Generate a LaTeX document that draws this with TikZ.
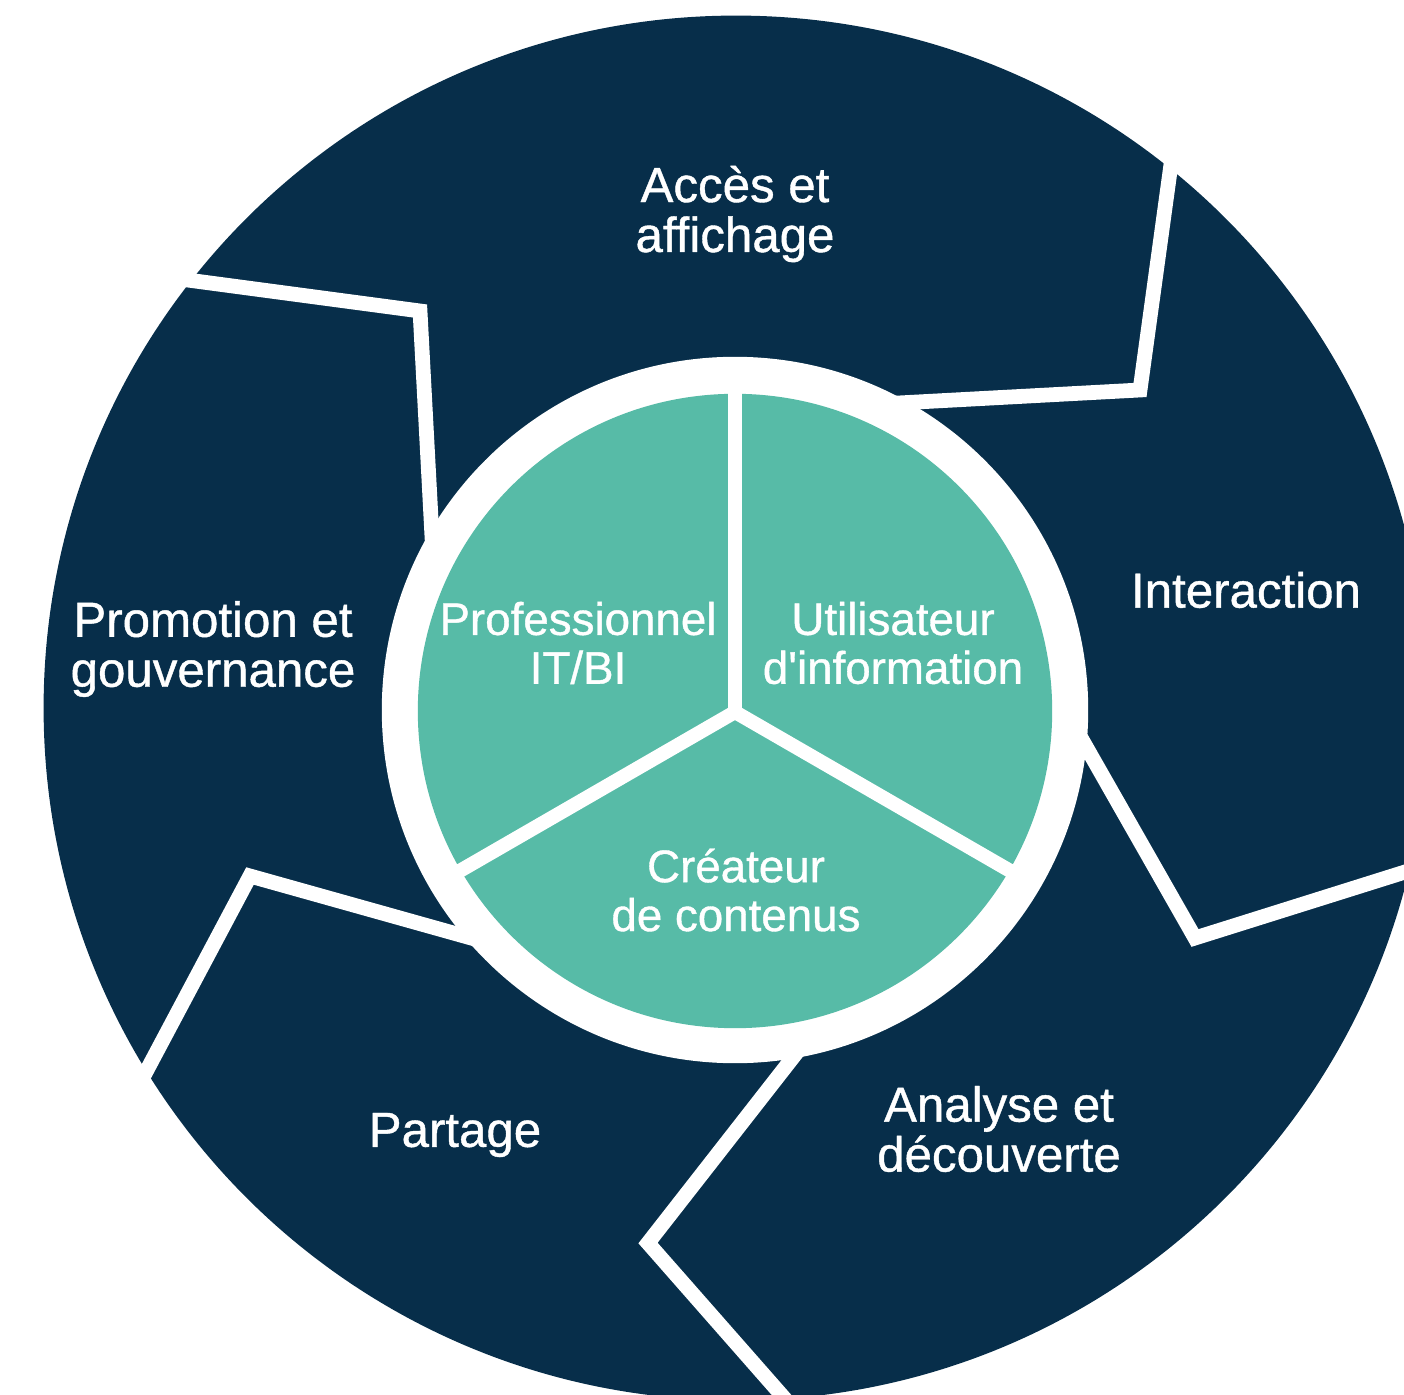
\documentclass[tikz,border=0pt]{standalone}
\usepackage{fontspec}
\setmainfont{Liberation Sans}[FakeBold=0.8]
\definecolor{cyclenavy}{HTML}{072E4A}
\definecolor{rolegreen}{HTML}{57BBA7}
\begin{document}
\begin{tikzpicture}[x=0.01cm,y=-0.01cm]
       \tikzset{phase/.style={text=white, align=center, font=\fontsize{14}{14.2}\selectfont}}
       \tikzset{role/.style={text=white, align=center, font=\fontsize{13}{13.9}\selectfont}}
       \tikzset{cut/.style={white, line width=4.2pt}}
       \tikzset{divider/.style={white, line width=4pt}}

       \useasboundingbox (0,0) rectangle (1404,1395);
       \clip (0,0) rectangle (1404,1395);

       % outer cycle
       \fill[cyclenavy] (736,708) circle (6.92cm);
       \draw[cut] (150,275) -- (420,311) -- (433,556);
       \draw[cut] (1175,135) -- (1140,390) -- (880,404);
       \draw[cut] (1440,861) -- (1195,938) -- (1072,722);
       \draw[cut] (800,1416) -- (648,1243) -- (805,1042);
       \draw[cut] (130,1102) -- (250,876) -- (489,943);

       % roles in the middle
       \fill[white] (735,710) circle (3.53cm);
       \fill[rolegreen] (735,711) circle (3.17cm);
       \coordinate (hub) at (735,712);
       \draw[divider] (hub) -- ++(90:3.4cm);
       \draw[divider] (hub) -- ++(210:3.4cm);
       \draw[divider] (hub) -- ++(-30:3.4cm);

       \node[phase] (acces) at (735,214) {Accès et\\affichage};
       \node[phase] (interaction) at (1246,590) {Interaction};
       \node[phase] (analyse) at (999,1129) {Analyse et\\découverte};
       \node[phase] (partage) at (455,1135) {Partage};
       \node[phase] (promotion) at (213,649) {Promotion et\\gouvernance};

       \node[role] (itbi) at (578,643) {Professionnel\\IT/BI};
       \node[role] (utilisateur) at (893,643) {Utilisateur\\d\textquotesingle information};
       \node[role] (createur) at (736,890) {Créateur\\de contenus};
   \end{tikzpicture}
\end{document}
